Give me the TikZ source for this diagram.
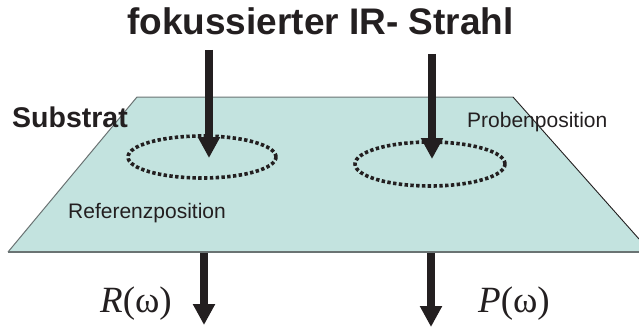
\documentclass[tikz,border=0pt]{standalone}
\usepackage{fontspec}
\setmainfont{Liberation Serif}
\newfontfamily\arialfont{Liberation Sans}
\usetikzlibrary{arrows.meta,shapes.geometric}
\definecolor{subfill}{HTML}{C3E3DF}
\definecolor{edgegray}{HTML}{6A7373}
\definecolor{inkdark}{HTML}{231F20}
\tikzset{
  beam/.style={draw=inkdark, line width=8pt, -{Triangle[width=21pt,length=21pt]}},
  spot/.style={ellipse, draw=inkdark, line width=3.6pt, dash pattern=on 3.4pt off 2.4pt, inner sep=0pt},
  boldlabel/.style={inner sep=0pt, anchor=base west, text=inkdark},
  smalllabel/.style={inner sep=0pt, anchor=base west, text=inkdark, font=\arialfont\fontsize{21}{24}\selectfont},
  signal/.style={inner sep=0pt, anchor=base west, text=inkdark, font=\fontsize{37}{40}\selectfont}
}
\begin{document}
\begin{tikzpicture}[x=1pt,y=-1pt]
\useasboundingbox (0,0) rectangle (639,329);
% substrate
\fill[subfill] (137,97) -- (513,97) -- (639,239) -- (639,252) -- (8,252) -- cycle;
\draw[edgegray, line width=1pt] (8,252) -- (137,97) -- (513,97);
\draw[inkdark, line width=0.9pt] (513,97) -- (639,239);
\draw[edgegray, line width=2.6pt] (8,252) -- (639,252);
% title
\node[boldlabel, font=\arialfont\bfseries\fontsize{37}{42}\selectfont] (title) at (127,35) {fokussierter IR- Strahl};
% labels
\node[boldlabel, font=\arialfont\bfseries\fontsize{28.5}{32}\selectfont] (substrat) at (12,127) {Substrat};
\node[smalllabel] (reflabel) at (68,218) {Referenzposition};
\node[smalllabel] (problabel) at (467,127) {Probenposition};
% spots
\node[spot, minimum width=148pt, minimum height=42pt] (refspot) at (202,157) {};
\node[spot, minimum width=150pt, minimum height=44pt] (probspot) at (430,164) {};
% beams
\coordinate (inA) at (209,50);
\coordinate (hitA) at (209,158);
\coordinate (inB) at (432,54);
\coordinate (hitB) at (432,159);
\coordinate (outAs) at (204,253);
\coordinate (outAe) at (204,325);
\coordinate (outBs) at (431,253);
\coordinate (outBe) at (431,327);
\draw[beam] (inA) -- (hitA);
\draw[beam] (inB) -- (hitB);
\draw[beam] (outAs) -- (outAe);
\draw[beam] (outBs) -- (outBe);
% signals
\node[signal] (Rsig) at (100,312) {\textit{R}(ω)};
\node[signal] (Psig) at (478,312) {\textit{P}(ω)};
\end{tikzpicture}
\end{document}
